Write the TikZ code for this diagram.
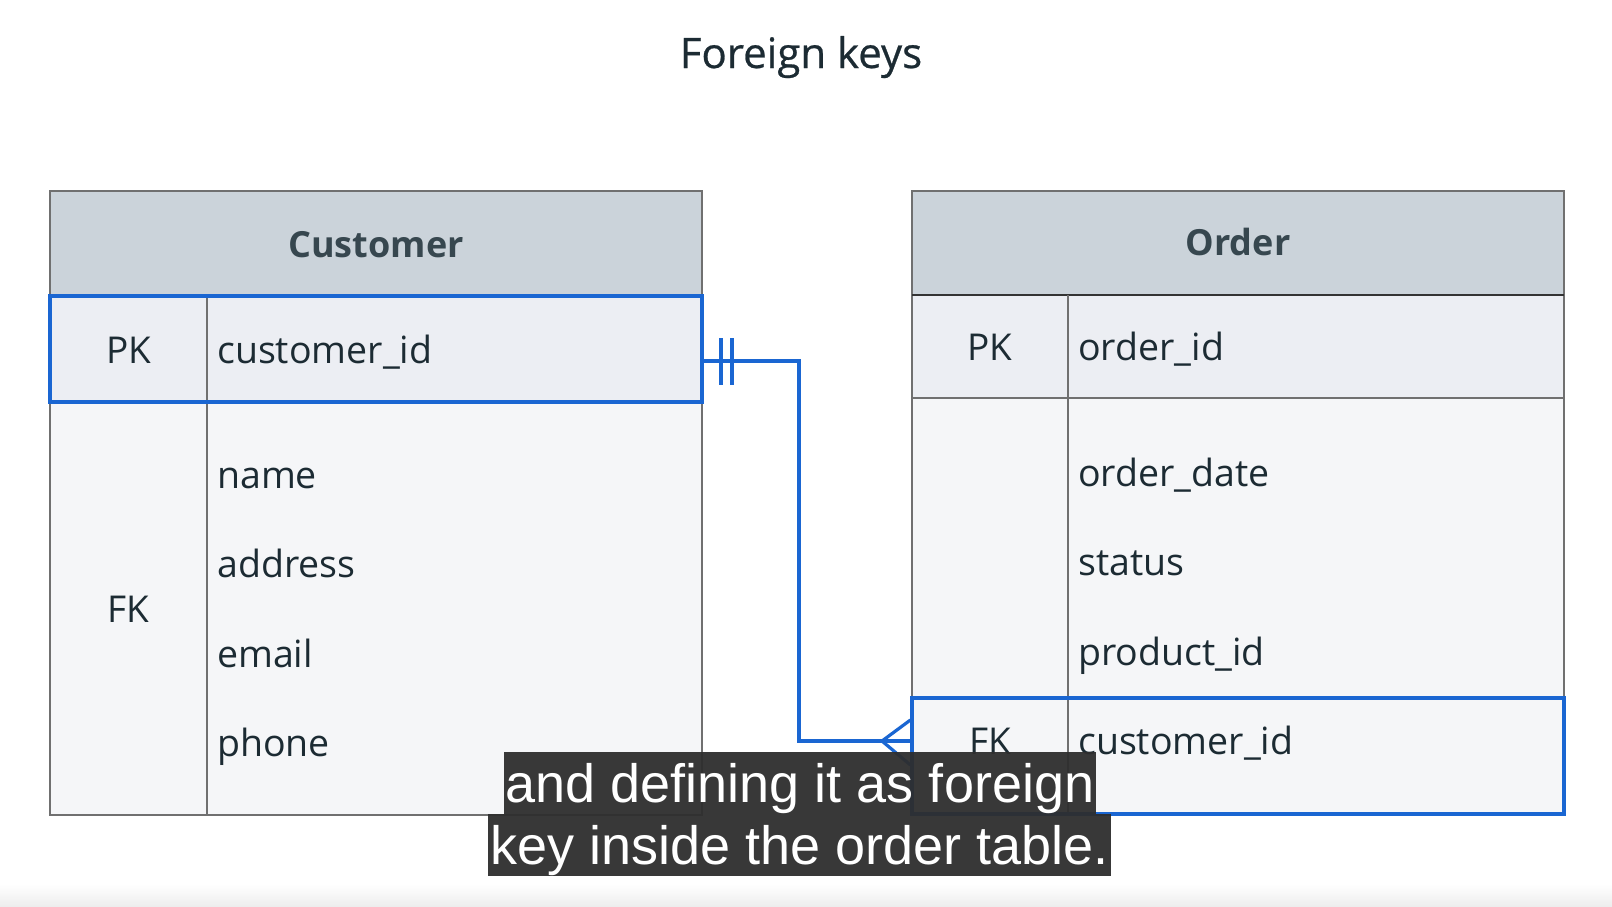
\documentclass[tikz,border=0pt]{standalone}
\usepackage{fontspec}
\setmainfont{Open Sans}
\newfontfamily\subfont{Liberation Sans}
\newfontfamily\titlefont[FakeBold=0.6]{Open Sans}
\definecolor{hdr}{HTML}{CBD3DA}
\definecolor{pkrow}{HTML}{ECEEF3}
\definecolor{body}{HTML}{F5F6F8}
\definecolor{bord}{HTML}{707070}
\definecolor{erblue}{HTML}{1A66D2}
\definecolor{txt}{HTML}{1C2B33}
\definecolor{hdrtxt}{HTML}{37474F}
\definecolor{subbg}{HTML}{2E2E2E}
\tikzset{
  tbl/.style={draw=bord, line width=1.5pt, fill=body},
  hdrfill/.style={draw=bord, line width=1.5pt, fill=hdr},
  pkfill/.style={fill=pkrow, draw=bord, line width=1.5pt},
  keyrow/.style={draw=erblue, line width=3.2pt},
  cell/.style={font=\fontsize{37.5}{44}\selectfont, text=txt, inner sep=0pt, anchor=base west},
  keytxt/.style={font=\fontsize{37}{44}\selectfont, text=txt, inner sep=0pt, anchor=base},
  hdrtext/.style={font=\fontsize{36}{44}\selectfont\bfseries, text=hdrtxt, inner sep=0pt, anchor=base},
  rel/.style={draw=erblue, line width=3.2pt},
  subbox/.style={fill=subbg, fill opacity=0.95, text opacity=1, text=white, font=\subfont\fontsize{54}{60}\selectfont, inner xsep=2pt, inner ysep=0pt, text height=50pt, text depth=12pt, anchor=base}
}
\begin{document}
\begin{tikzpicture}[x=1pt,y=-1pt]
\useasboundingbox (0,0) rectangle (1612,906);
\fill[white] (0,0) rectangle (1612,906);
\shade[top color=white, bottom color=black!7] (0,884) rectangle (1612,906);

% title
\node[font=\titlefont\fontsize{42}{50}\selectfont, text=txt, inner sep=0pt, anchor=base] (title) at (801,68) {Foreign keys};

% ---------- Customer table ----------
\path[tbl] (50,191) rectangle (702,815);
\path[hdrfill] (50,191) rectangle (702,296);
\path[pkfill] (50,296) rectangle (702,402);
\draw[bord, line width=1.5pt] (207,296) -- (207,815);
\node[hdrtext] (chead) at (376,257) {Customer};
\node[keytxt] (cpkl) at (128.5,363) {PK};
\node[cell] (cpkt) at (217,363) {customer\_id};
\node[keytxt] (cfkl) at (128.5,622) {FK};
\node[cell] (cname) at (217,488) {name};
\node[cell] (caddr) at (217,577) {address};
\node[cell] (cmail) at (217,667) {email};
\node[cell] (cphone) at (217,756) {phone};
\node[keyrow, minimum width=652pt, minimum height=106pt, inner sep=0pt] (cpk) at (376,349) {};

% ---------- Order table ----------
\path[tbl] (912,191) rectangle (1564,814);
\path[hdrfill] (912,191) rectangle (1564,295);
\path[pkfill] (912,295) rectangle (1564,398);
\draw[black!80, line width=2.2pt] (912,295) -- (1564,295);
\draw[bord, line width=1.5pt] (1068,295) -- (1068,814);
\node[hdrtext] (ohead) at (1238,255) {Order};
\node[keytxt] (opkl) at (990,360) {PK};
\node[cell] (opkt) at (1078,360) {order\_id};
\node[cell] (odate) at (1078,486) {order\_date};
\node[cell] (ostat) at (1078,575) {status};
\node[cell] (oprod) at (1078,665) {product\_id};
\node[keytxt] (ofkl) at (990,754) {FK};
\node[cell] (ofkt) at (1078,754) {customer\_id};
\node[keyrow, minimum width=652pt, minimum height=116pt, inner sep=0pt] (ofk) at (1238,756) {};

% ---------- relationship ----------
\coordinate (r1) at (cpk.east |- 0,361);
\coordinate (r2) at (799,361);
\coordinate (r3) at (799,741);
\coordinate (r4) at (ofk.west |- 0,741);
\coordinate (crow) at (882,741);
\draw[rel, line join=miter] (r1) -- (r2) -- (r3) -- (r4);
\draw[rel] (721,338) -- (721,385);
\draw[rel] (732,338) -- (732,385);
\draw[rel] (ofk.west |- 0,720) -- (crow) -- (ofk.west |- 0,765);

% ---------- subtitles ----------
\node[subbox, minimum width=592pt] (sub1) at (800,802) {and defining it as foreign};
\node[subbox, minimum width=621pt] (sub2) at (799.5,864) {key inside the order table.};
\end{tikzpicture}
\end{document}
